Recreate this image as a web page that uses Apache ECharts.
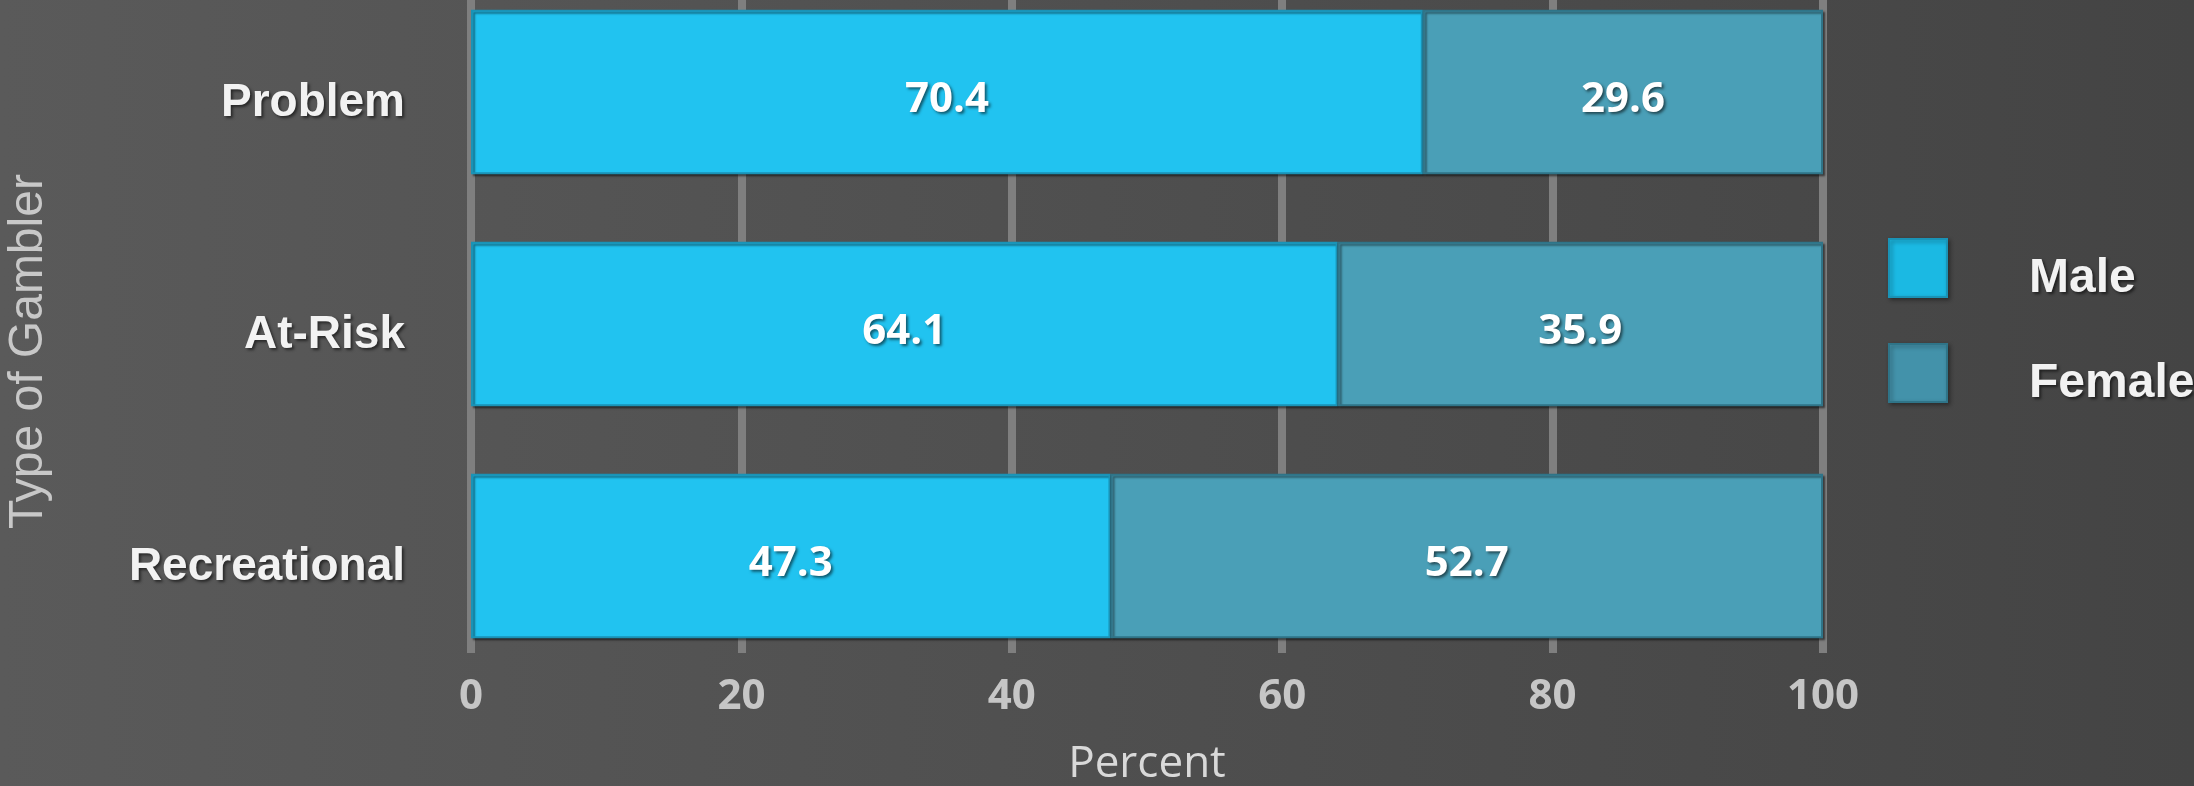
<!DOCTYPE html>
<html>
<head>
<meta charset="utf-8">
<title>Type of Gambler by Gender</title>
<script src="https://cdn.jsdelivr.net/npm/echarts@6/dist/echarts.min.js"></script>
<style>
  html, body { margin: 0; padding: 0; background: #4f4f4f; }
  #chart { width: 2194px; height: 786px; }
</style>
</head>
<body>
<div id="chart"></div>
<script>
// Gambler types, listed top to bottom
const categories = ['Problem', 'At-Risk', 'Recreational'];
// Percent of each group by gender
const maleValues = [70.4, 64.1, 47.3];
const femaleValues = [29.6, 35.9, 52.7];
const seriesNames = ['Male', 'Female'];
const xTicks = { min: 0, max: 100, interval: 20 };

const chart = echarts.init(document.getElementById('chart'), null, { renderer: 'canvas' });

const labelShadow = {
  textShadowColor: 'rgba(0,0,0,0.55)',
  textShadowBlur: 3,
  textShadowOffsetX: 2,
  textShadowOffsetY: 2
};

const barLabel = Object.assign({
  show: true,
  position: 'inside',
  formatter: p => p.value.toFixed(1),
  color: '#ffffff',
  fontFamily: 'Open Sans',
  fontWeight: 'bold',
  fontSize: 42,
  offset: [0, 8]
}, labelShadow);

// Square swatch with an empty move-to below it, so the legend text sits a little lower
const swatch = 'path://M0,0L58,0L58,58L0,58ZM0,80';

chart.setOption({
  backgroundColor: {
    type: 'linear', x: 0, y: 0, x2: 1, y2: 0,
    colorStops: [
      { offset: 0, color: '#5a5a5a' },
      { offset: 1, color: '#444444' }
    ]
  },
  animation: false,
  grid: [
    // bars
    { left: 471, right: 371, top: -24, bottom: 114, containLabel: false, outerBoundsMode: 'none' },
    // gridlines, tick labels and axis titles
    { left: 471, right: 371, top: -24, bottom: 133, containLabel: false, outerBoundsMode: 'none' }
  ],
  xAxis: [
    { gridIndex: 0, type: 'value', min: xTicks.min, max: xTicks.max, interval: xTicks.interval, show: false },
    {
      gridIndex: 1, type: 'value', min: xTicks.min, max: xTicks.max, interval: xTicks.interval,
      axisLine: { show: false },
      axisTick: { show: false },
      splitLine: { show: true, lineStyle: { color: '#7f7f7f', width: 8 } },
      axisLabel: {
        margin: 23,
        color: '#c6c6c6',
        fontFamily: 'Open Sans',
        fontWeight: 'bold',
        fontSize: 42,
        lineHeight: 42
      },
      name: 'Percent',
      nameLocation: 'middle',
      nameGap: 89,
      nameTextStyle: {
        color: '#d9d9d9',
        fontFamily: 'Open Sans',
        fontSize: 44
      }
    }
  ],
  yAxis: [
    {
      gridIndex: 0, type: 'category', data: categories, inverse: true,
      axisLine: { show: false },
      axisTick: { show: false },
      splitLine: { show: false },
      axisLabel: Object.assign({
        margin: 66,
        color: '#f2f2f2',
        fontFamily: 'Liberation Sans',
        fontWeight: 'bold',
        fontSize: 46,
        verticalAlign: 'top',
        lineHeight: 22
      }, labelShadow)
    },
    {
      gridIndex: 1, type: 'value',
      axisLine: { show: false },
      axisTick: { show: false },
      axisLabel: { show: false },
      splitLine: { show: false },
      name: 'Type of Gambler',
      nameLocation: 'middle',
      nameRotate: 90,
      nameGap: 418,
      nameTextStyle: {
        color: '#c8c8c8',
        fontFamily: 'Liberation Sans',
        fontSize: 48,
        padding: [0, 74, 0, 0]
      }
    }
  ],
  legend: {
    orient: 'vertical',
    left: 1883,
    top: 233,
    itemWidth: 58,
    itemHeight: 80,
    itemGap: 23,
    icon: swatch,
    data: [
      { name: seriesNames[0], itemStyle: { color: '#1bb9e3' } },
      { name: seriesNames[1], itemStyle: { color: '#4392aa' } }
    ],
    itemStyle: { shadowColor: 'rgba(0,0,0,0.35)', shadowBlur: 4, shadowOffsetX: 2, shadowOffsetY: 2 },
    textStyle: Object.assign({
      color: '#f2f2f2',
      fontFamily: 'Liberation Sans',
      fontWeight: 'bold',
      fontSize: 48,
      padding: [0, 0, 0, 77]
    }, labelShadow)
  },
  series: [
    {
      name: seriesNames[0],
      type: 'bar',
      stack: 'gender',
      xAxisIndex: 0, yAxisIndex: 0,
      barCategoryGap: '29%',
      data: maleValues,
      itemStyle: {
        color: '#21c3f0',
        borderColor: '#1a93b6',
        borderWidth: 2,
        shadowColor: 'rgba(0,0,0,0.45)',
        shadowBlur: 2,
        shadowOffsetX: 2,
        shadowOffsetY: 2
      },
      label: barLabel
    },
    {
      name: seriesNames[1],
      type: 'bar',
      stack: 'gender',
      xAxisIndex: 0, yAxisIndex: 0,
      barCategoryGap: '29%',
      data: femaleValues,
      itemStyle: {
        color: '#4a9fb7',
        borderColor: '#2f7488',
        borderWidth: 2,
        shadowColor: 'rgba(0,0,0,0.45)',
        shadowBlur: 2,
        shadowOffsetX: 2,
        shadowOffsetY: 2
      },
      label: barLabel
    }
  ]
});
</script>
</body>
</html>
